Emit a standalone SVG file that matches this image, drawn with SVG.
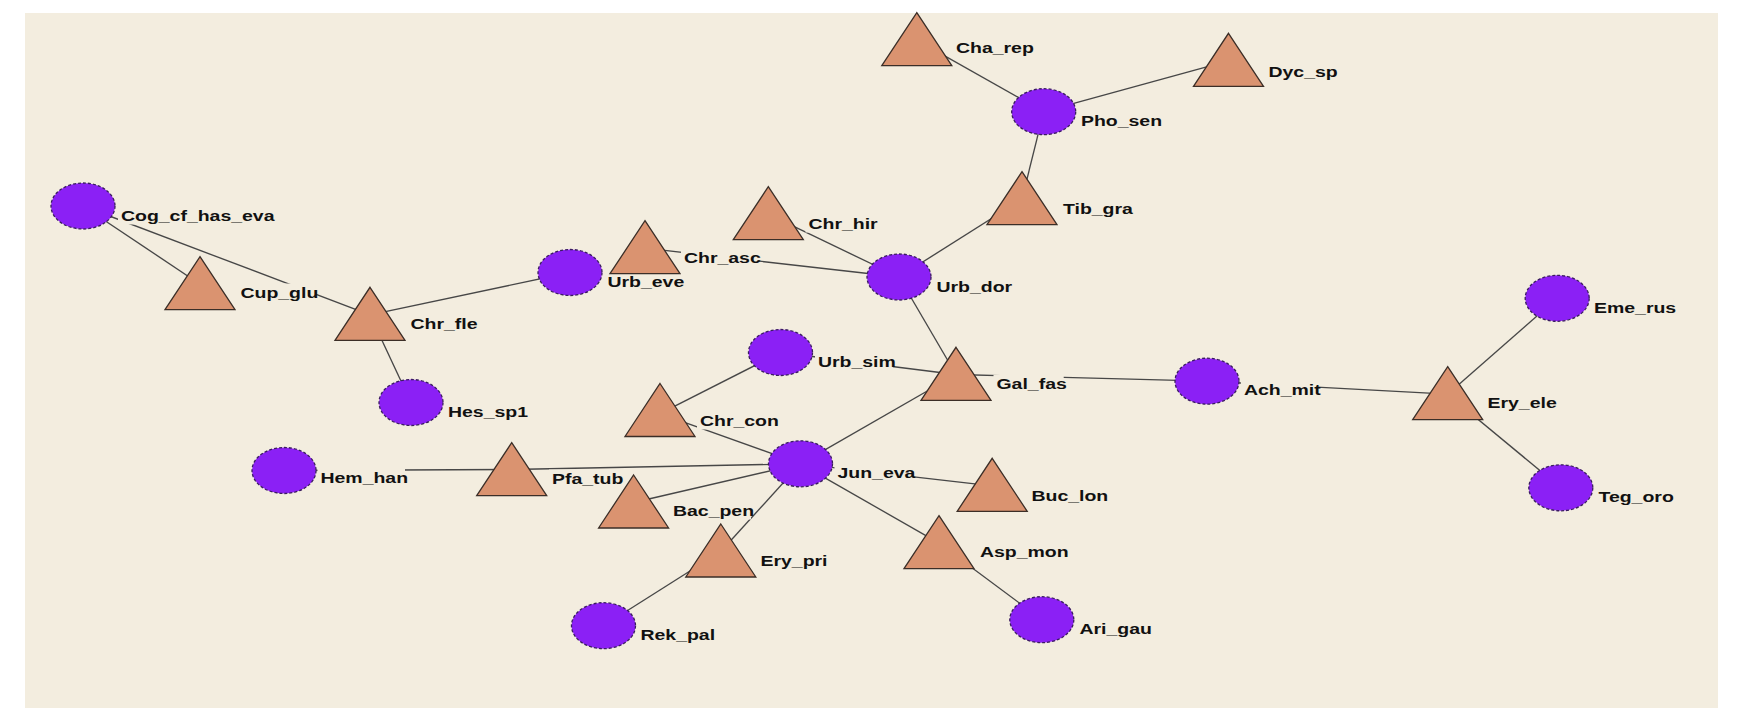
<svg xmlns="http://www.w3.org/2000/svg" xmlns:xlink="http://www.w3.org/1999/xlink" width="1752" height="710" viewBox="0 0 1752 710">
  <style>
    .edge { stroke: #474747; stroke-width: 1.35; fill: none; }
    .back { fill: #F3EDDF; }
    .dot { fill: #8B20F5; stroke: #3a1c60; stroke-width: 1.3; stroke-dasharray: 3 2; }
    .tri { fill: #DA9370; stroke: #3b2e27; stroke-width: 1.3; stroke-linejoin: miter; }
    .lbl { font-family: "Liberation Sans", Arial, sans-serif; font-weight: bold; font-size: 14px; fill: #111111; }
  </style>
  <defs>
    <ellipse id="dot" class="dot" cx="0" cy="0" rx="32" ry="23"/>
    <path id="tri" class="tri" d="M0,0 L35,53 L-35,53 Z"/>
  </defs>

  <!-- canvas -->
  <rect x="0" y="0" width="1752" height="710" fill="#ffffff"/>
  <rect x="25" y="13" width="1693" height="695" fill="#F3EDDF"/>

  <!-- connectors (centre to centre, nodes are painted over them) -->
  <g id="edges">
    <line class="edge" x1="83" y1="206" x2="200" y2="284.2"/>
    <line class="edge" x1="83" y1="206" x2="370" y2="314.8"/>
    <line class="edge" x1="370" y1="314.8" x2="570" y2="272.5"/>
    <line class="edge" x1="370" y1="314.8" x2="411" y2="402.5"/>
    <line class="edge" x1="645" y1="248.2" x2="899" y2="277"/>
    <line class="edge" x1="768.3" y1="214.2" x2="899" y2="277"/>
    <line class="edge" x1="899" y1="277" x2="1022" y2="199.2"/>
    <line class="edge" x1="1022" y1="199.2" x2="1043.7" y2="111.7"/>
    <line class="edge" x1="916.8" y1="40.2" x2="1043.7" y2="111.7"/>
    <line class="edge" x1="1043.7" y1="111.7" x2="1228.5" y2="60.8"/>
    <line class="edge" x1="899" y1="277" x2="956" y2="374.5"/>
    <line class="edge" x1="780.5" y1="352.5" x2="956" y2="374.5"/>
    <line class="edge" x1="780.5" y1="352.5" x2="660" y2="413.7"/>
    <line class="edge" x1="956" y1="374.5" x2="800.5" y2="463.8"/>
    <line class="edge" x1="956" y1="374.5" x2="1207" y2="381.2"/>
    <line class="edge" x1="1207" y1="381.2" x2="1447.7" y2="394.2"/>
    <line class="edge" x1="1447.7" y1="394.2" x2="1557.2" y2="298.3"/>
    <line class="edge" x1="1447.7" y1="394.2" x2="1560.8" y2="487.8"/>
    <line class="edge" x1="660" y1="413.7" x2="800.5" y2="463.8"/>
    <line class="edge" x1="284" y1="470.5" x2="511.7" y2="469.5"/>
    <line class="edge" x1="511.7" y1="469.5" x2="800.5" y2="463.8"/>
    <line class="edge" x1="633.6" y1="502.5" x2="800.5" y2="463.8"/>
    <line class="edge" x1="800.5" y1="463.8" x2="720.8" y2="551.5"/>
    <line class="edge" x1="720.8" y1="551.5" x2="603.5" y2="625.7"/>
    <line class="edge" x1="800.5" y1="463.8" x2="992.2" y2="485.8"/>
    <line class="edge" x1="800.5" y1="463.8" x2="939" y2="543.2"/>
    <line class="edge" x1="939" y1="543.2" x2="1041.8" y2="619.7"/>
  </g>

  <!-- opaque plates behind the labels -->
  <g id="label-backs">
    <rect class="back" x="118" y="206.5" width="153.4" height="18"/>
    <rect class="back" x="237.5" y="283.5" width="77.8" height="18"/>
    <rect class="back" x="407.5" y="314.5" width="67" height="18"/>
    <rect class="back" x="604.5" y="272" width="76.7" height="18"/>
    <rect class="back" x="445" y="402" width="80" height="18"/>
    <rect class="back" x="317.5" y="468.5" width="87.5" height="18"/>
    <rect class="back" x="549" y="469.5" width="71.3" height="18"/>
    <rect class="back" x="953" y="38.5" width="77.8" height="18"/>
    <rect class="back" x="1078" y="111.5" width="81" height="18"/>
    <rect class="back" x="1060" y="199.5" width="70.2" height="18"/>
    <rect class="back" x="805.5" y="214.5" width="69.1" height="18"/>
    <rect class="back" x="681" y="248.5" width="76.7" height="18"/>
    <rect class="back" x="933.5" y="277" width="75.6" height="18"/>
    <rect class="back" x="1265.5" y="62" width="69.1" height="18"/>
    <rect class="back" x="1591" y="298.5" width="82.1" height="18"/>
    <rect class="back" x="815" y="352" width="77.8" height="18"/>
    <rect class="back" x="993.5" y="374.8" width="70.2" height="18"/>
    <rect class="back" x="697" y="411.5" width="78.8" height="18"/>
    <rect class="back" x="834.5" y="463" width="77.8" height="18"/>
    <rect class="back" x="1028.5" y="486" width="76.7" height="18"/>
    <rect class="back" x="670" y="501.5" width="81" height="18"/>
    <rect class="back" x="757.5" y="551.5" width="67" height="18"/>
    <rect class="back" x="977" y="542.5" width="88.6" height="18"/>
    <rect class="back" x="637.5" y="625.5" width="74.6" height="18"/>
    <rect class="back" x="1076.5" y="619.5" width="72.4" height="18"/>
    <rect class="back" x="1241" y="380.5" width="76.7" height="18"/>
    <rect class="back" x="1484.5" y="393.5" width="69.2" height="18"/>
    <rect class="back" x="1595.5" y="487" width="76.7" height="18"/>
  </g>

  <g id="nodes">
    <g id="node-cog-cf-has-eva"><use xlink:href="#dot" x="83" y="206"/><text class="lbl" transform="translate(121 221) scale(1.39 1)">Cog_cf_has_eva</text></g>
    <g id="node-cup-glu"><use xlink:href="#tri" x="200" y="256.7"/><text class="lbl" transform="translate(240.5 298) scale(1.39 1)">Cup_glu</text></g>
    <g id="node-chr-fle"><use xlink:href="#tri" x="370" y="287.3"/><text class="lbl" transform="translate(410.5 329) scale(1.39 1)">Chr_fle</text></g>
    <g id="node-urb-eve"><use xlink:href="#dot" x="570" y="272.5"/><text class="lbl" transform="translate(607.5 286.5) scale(1.39 1)">Urb_eve</text></g>
    <g id="node-hes-sp1"><use xlink:href="#dot" x="411" y="402.5"/><text class="lbl" transform="translate(448 416.5) scale(1.39 1)">Hes_sp1</text></g>
    <g id="node-hem-han"><use xlink:href="#dot" x="284" y="470.5"/><text class="lbl" transform="translate(320.5 483) scale(1.39 1)">Hem_han</text></g>
    <g id="node-pfa-tub"><use xlink:href="#tri" x="511.7" y="442.7"/><text class="lbl" transform="translate(552 484) scale(1.39 1)">Pfa_tub</text></g>
    <g id="node-cha-rep"><use xlink:href="#tri" x="916.8" y="12.7"/><text class="lbl" transform="translate(956 53) scale(1.39 1)">Cha_rep</text></g>
    <g id="node-pho-sen"><use xlink:href="#dot" x="1043.7" y="111.7"/><text class="lbl" transform="translate(1081 126) scale(1.39 1)">Pho_sen</text></g>
    <g id="node-tib-gra"><use xlink:href="#tri" x="1022" y="171.7"/><text class="lbl" transform="translate(1063 214) scale(1.39 1)">Tib_gra</text></g>
    <g id="node-chr-hir"><use xlink:href="#tri" x="768.3" y="186.7"/><text class="lbl" transform="translate(808.5 229) scale(1.39 1)">Chr_hir</text></g>
    <g id="node-chr-asc"><use xlink:href="#tri" x="645" y="220.7"/><text class="lbl" transform="translate(684 263) scale(1.39 1)">Chr_asc</text></g>
    <g id="node-urb-dor"><use xlink:href="#dot" x="899" y="277"/><text class="lbl" transform="translate(936.5 291.5) scale(1.39 1)">Urb_dor</text></g>
    <g id="node-dyc-sp"><use xlink:href="#tri" x="1228.5" y="33.3"/><text class="lbl" transform="translate(1268.5 76.5) scale(1.39 1)">Dyc_sp</text></g>
    <g id="node-eme-rus"><use xlink:href="#dot" x="1557.2" y="298.3"/><text class="lbl" transform="translate(1594 313) scale(1.39 1)">Eme_rus</text></g>
    <g id="node-urb-sim"><use xlink:href="#dot" x="780.5" y="352.5"/><text class="lbl" transform="translate(818 366.5) scale(1.39 1)">Urb_sim</text></g>
    <g id="node-gal-fas"><use xlink:href="#tri" x="956" y="347.3"/><text class="lbl" transform="translate(996.5 389.3) scale(1.39 1)">Gal_fas</text></g>
    <g id="node-chr-con"><use xlink:href="#tri" x="660" y="383.5"/><text class="lbl" transform="translate(700 426) scale(1.39 1)">Chr_con</text></g>
    <g id="node-jun-eva"><use xlink:href="#dot" x="800.5" y="463.8"/><text class="lbl" transform="translate(837.5 477.5) scale(1.39 1)">Jun_eva</text></g>
    <g id="node-buc-lon"><use xlink:href="#tri" x="992.2" y="458.3"/><text class="lbl" transform="translate(1031.5 500.5) scale(1.39 1)">Buc_lon</text></g>
    <g id="node-bac-pen"><use xlink:href="#tri" x="633.6" y="475"/><text class="lbl" transform="translate(673 516) scale(1.39 1)">Bac_pen</text></g>
    <g id="node-ery-pri"><use xlink:href="#tri" x="720.8" y="524"/><text class="lbl" transform="translate(760.5 566) scale(1.39 1)">Ery_pri</text></g>
    <g id="node-asp-mon"><use xlink:href="#tri" x="939" y="515.7"/><text class="lbl" transform="translate(980 557) scale(1.39 1)">Asp_mon</text></g>
    <g id="node-rek-pal"><use xlink:href="#dot" x="603.5" y="625.7"/><text class="lbl" transform="translate(640.5 640) scale(1.39 1)">Rek_pal</text></g>
    <g id="node-ari-gau"><use xlink:href="#dot" x="1041.8" y="619.7"/><text class="lbl" transform="translate(1079.5 634) scale(1.39 1)">Ari_gau</text></g>
    <g id="node-ach-mit"><use xlink:href="#dot" x="1207" y="381.2"/><text class="lbl" transform="translate(1244 395) scale(1.39 1)">Ach_mit</text></g>
    <g id="node-ery-ele"><use xlink:href="#tri" x="1447.7" y="366.7"/><text class="lbl" transform="translate(1487.5 408) scale(1.39 1)">Ery_ele</text></g>
    <g id="node-teg-oro"><use xlink:href="#dot" x="1560.8" y="487.8"/><text class="lbl" transform="translate(1598.5 501.5) scale(1.39 1)">Teg_oro</text></g>
  </g>
</svg>
